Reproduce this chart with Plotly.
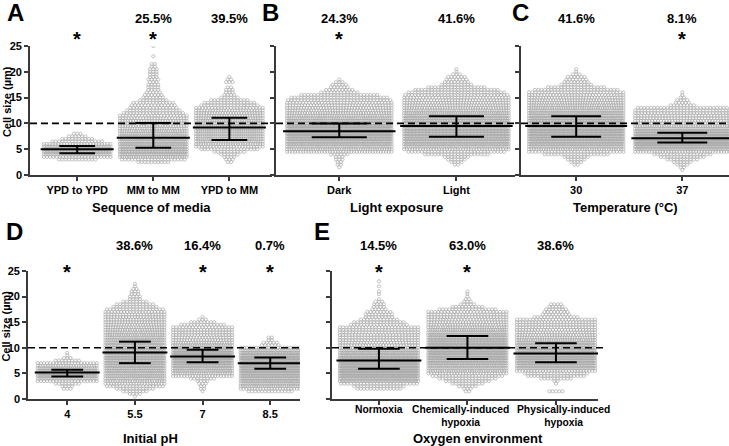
import numpy as np
import plotly.graph_objects as go

BIN = 0.5  # µm, height of one row of the dot plot

# ---------------- Panel A : sequence of media ----------------
a_categories = ["YPD to YPD", "MM to MM", "YPD to MM"]
a_percent = ["", "25.5%", "39.5%"]
a_star = [True, True, False]
a_median = [5.0, 7.2, 9.2]
a_q1 = [4.2, 5.3, 6.8]
a_q3 = [5.6, 10.1, 11.1]
ypd_ypd_start = 3.0
ypd_ypd_counts = [12, 22, 35, 45, 48, 42, 24, 16, 10, 6, 3]
mm_mm_start = 2.5
mm_mm_counts = [10, 20, 30, 40, 45, 45, 42, 40, 38, 36, 34, 32, 30, 28, 26,
                28, 26, 24, 22, 19, 17, 15, 14, 13, 9, 7, 6, 5, 4, 4, 4, 3, 4,
                3, 3, 3, 3, 2, 2, 0, 0, 1, 0, 0, 0, 1]
ypd_mm_start = 2.5
ypd_mm_counts = [2, 3, 4, 6, 10, 18, 24, 28, 30, 32, 32, 32, 32, 32, 32, 30,
                 30, 28, 27, 26, 25, 22, 18, 16, 12, 6, 4, 3, 3, 2, 0, 3, 2, 1]

# ---------------- Panel B : light exposure ----------------
b_categories = ["Dark", "Light"]
b_percent = ["24.3%", "41.6%"]
b_star = [True, False]
b_median = [8.5, 9.5]
b_q1 = [7.3, 7.4]
b_q3 = [10.0, 11.4]
dark_start = 1.5
dark_counts = [1, 2, 2, 3, 3, 6, 40, 45, 50, 60, 70, 80, 90, 95, 95, 90, 80,
               65, 55, 50, 45, 42, 40, 38, 36, 34, 32, 30, 24, 12, 9, 6, 5, 3, 1]
light_30_start = 2.0
light_30_counts = [2, 4, 6, 8, 20, 30, 40, 50, 60, 65, 70, 75, 75, 75, 75, 72,
                   70, 65, 60, 55, 50, 45, 42, 40, 38, 36, 34, 32, 30, 26, 18,
                   10, 8, 7, 6, 3, 1, 1]

# ---------------- Panel C : temperature ----------------
c_categories = ["30", "37"]
c_percent = ["41.6%", "8.1%"]
c_star = [False, True]
c_median = [9.5, 7.1]
c_q1 = [7.4, 6.3]
c_q3 = [11.4, 8.2]
t37_start = 1.0
t37_counts = [1, 2, 4, 6, 10, 14, 18, 35, 50, 70, 90, 100, 100, 90, 75, 60,
              48, 40, 36, 34, 32, 32, 30, 30, 28, 8, 5, 4, 2, 1, 1]

# ---------------- Panel D : initial pH ----------------
d_categories = ["4", "5.5", "7", "8.5"]
d_percent = ["", "38.6%", "16.4%", "0.7%"]
d_star = [True, False, True, True]
d_median = [5.2, 9.1, 8.3, 7.0]
d_q1 = [4.4, 7.0, 7.2, 5.9]
d_q3 = [5.7, 11.2, 9.6, 8.1]
ph4_start = 2.0
ph4_counts = [3, 4, 8, 20, 30, 40, 45, 40, 30, 24, 20, 8, 3, 1, 1]
ph55_start = 0.5
ph55_counts = [1, 4, 8, 12, 18, 22, 25, 28, 30, 32, 34, 36, 38, 40, 42, 42,
               42, 40, 38, 36, 34, 32, 30, 28, 27, 26, 25, 24, 23, 22, 22, 21,
               21, 20, 18, 14, 12, 8, 4, 4, 3, 3, 2, 1, 1]
ph7_start = 1.5
ph7_counts = [1, 2, 2, 3, 4, 8, 22, 26, 30, 34, 40, 48, 55, 60, 60, 55, 45,
              35, 28, 24, 22, 21, 20, 20, 20, 19, 14, 8, 3, 1]
ph85_start = 1.5
ph85_counts = [14, 22, 28, 32, 35, 38, 40, 45, 50, 55, 60, 62, 60, 55, 48, 40,
               30, 20, 6, 5, 2, 2]

# ---------------- Panel E : oxygen environment ----------------
e_categories = ["Normoxia", "Chemically-induced<br>hypoxia", "Physically-induced<br>hypoxia"]
e_percent = ["14.5%", "63.0%", "38.6%"]
e_star = [True, True, False]
e_median = [7.5, 10.0, 8.9]
e_q1 = [5.9, 7.8, 7.2]
e_q3 = [9.8, 12.3, 10.9]
normoxia_start = 2.0
normoxia_counts = [14, 16, 24, 40, 55, 65, 70, 75, 75, 72, 70, 65, 60, 52, 45,
                   40, 32, 28, 27, 26, 26, 26, 25, 25, 25, 18, 16, 12, 9, 9, 8,
                   5, 4, 4, 3, 1, 0, 1, 1, 0, 1, 0, 1]
chem_start = 1.5
chem_counts = [2, 3, 6, 10, 14, 18, 22, 28, 35, 40, 45, 50, 55, 60, 62, 64, 65,
               65, 62, 58, 55, 50, 45, 40, 36, 33, 30, 28, 27, 26, 26, 25, 18,
               10, 5, 3, 2, 1, 1, 1]
phys_start = 1.5
phys_counts = [5, 0, 0, 1, 2, 10, 18, 20, 28, 40, 50, 55, 60, 65, 65, 62, 58,
               52, 45, 40, 35, 32, 30, 28, 27, 26, 26, 26, 25, 14, 9, 8, 7, 5, 4]

# ---------------- layout geometry (pixels) ----------------
W_PX, H_PX = 729, 446
panels = [
    dict(cats=a_categories, pct=a_percent, star=a_star, med=a_median, q1=a_q1, q3=a_q3,
         groups=[(ypd_ypd_start, ypd_ypd_counts), (mm_mm_start, mm_mm_counts), (ypd_mm_start, ypd_mm_counts)],
         px=(30, 272), py=(46, 175), rng=(-0.62, 2.56), letter="A", letter_xy=(16, 13),
         title="Sequence of media", title_x=151, title_y=207, ylabels=True, dash_end=272),
    dict(cats=b_categories, pct=b_percent, star=b_star, med=b_median, q1=b_q1, q3=b_q3,
         groups=[(dark_start, dark_counts), (light_30_start, light_30_counts)],
         px=(276, 515), py=(46, 175), rng=(-0.54, 1.50), letter="B", letter_xy=(270, 13),
         title="Light exposure", title_x=396, title_y=207, ylabels=False, dash_end=515),
    dict(cats=c_categories, pct=c_percent, star=c_star, med=c_median, q1=c_q1, q3=c_q3,
         groups=[(light_30_start, light_30_counts), (t37_start, t37_counts)],
         px=(521, 729), py=(46, 175), rng=(-0.52, 1.44), letter="C", letter_xy=(520, 13),
         title="Temperature (°C)", title_x=625, title_y=207, ylabels=False, dash_end=729),
    dict(cats=d_categories, pct=d_percent, star=d_star, med=d_median, q1=d_q1, q3=d_q3,
         groups=[(ph4_start, ph4_counts), (ph55_start, ph55_counts), (ph7_start, ph7_counts), (ph85_start, ph85_counts)],
         px=(28, 300), py=(271, 399), rng=(-0.58, 3.44), letter="D", letter_xy=(14, 232),
         title="Initial pH", title_x=150, title_y=438, ylabels=True, dash_end=300),
    dict(cats=e_categories, pct=e_percent, star=e_star, med=e_median, q1=e_q1, q3=e_q3,
         groups=[(normoxia_start, normoxia_counts), (chem_start, chem_counts), (phys_start, phys_counts)],
         px=(332, 598), py=(271, 399), rng=(-0.53, 2.475), letter="E", letter_xy=(322, 232),
         title="Oxygen environment", title_x=478, title_y=438.5, ylabels=False, dash_end=606,
         label_px=[379, 460, 563]),
]

FONT = "Liberation Sans, Arial, sans-serif"
DOT_COLOR = "#ababab"
AXIS_COLOR = "#3a3a3a"
Y_MAX = 25


def px2x(p):
    return p / W_PX


def py2y(p):
    return 1 - p / H_PX


def swarm(start, counts, spacing_px, width=0.92, dot_px=3.3):
    dx = dot_px / spacing_px
    xs, ys = [], []
    for i, n in enumerate(counts):
        if n <= 0:
            continue
        yv = start + i * BIN
        if n * dx <= width:
            off = (np.arange(n) - (n - 1) / 2) * dx
        else:
            off = np.linspace(-(width - dx) / 2, (width - dx) / 2, n)
        xs.extend(off.tolist())
        ys.extend([yv] * n)
    return np.array(xs), np.array(ys)


fig = go.Figure()
annotations = []
shapes = []

for k, p in enumerate(panels):
    idx = "" if k == 0 else str(k + 1)
    xa, ya = "x" + idx, "y" + idx
    spacing = (p["px"][1] - p["px"][0]) / (p["rng"][1] - p["rng"][0])
    # dots
    for j, (start, counts) in enumerate(p["groups"]):
        xs, ys = swarm(start, counts, spacing)
        fig.add_trace(go.Scatter(
            x=xs + j, y=ys, mode="markers", xaxis=xa, yaxis=ya, showlegend=False,
            hoverinfo="skip",
            marker=dict(symbol="circle-open", size=3.2, color=DOT_COLOR,
                        line=dict(width=0.7, color=DOT_COLOR))))
    # median + interquartile range
    lx, ly = [], []
    for j in range(len(p["cats"])):
        m, lo, hi = p["med"][j], p["q1"][j], p["q3"][j]
        lx += [j - 0.48, j + 0.48, None, j - 0.235, j + 0.235, None,
               j - 0.235, j + 0.235, None, j, j, None]
        ly += [m, m, None, lo, lo, None, hi, hi, None, lo, hi, None]
    fig.add_trace(go.Scatter(x=lx, y=ly, mode="lines", xaxis=xa, yaxis=ya,
                             showlegend=False, hoverinfo="skip",
                             line=dict(color="black", width=2)))
    dom_y = [py2y(p["py"][1]), py2y(p["py"][0])]
    own_labels = "label_px" in p
    fig.update_layout(**{
        ("xaxis" + idx): dict(
            domain=[px2x(p["px"][0]), px2x(p["px"][1])], range=list(p["rng"]),
            anchor=ya, tickvals=list(range(len(p["cats"]))), ticktext=p["cats"],
            showticklabels=not own_labels, tickangle=0, automargin=False,
            showline=True, linecolor=AXIS_COLOR, linewidth=1.6, ticks="outside",
            ticklen=4, tickwidth=1.6, tickcolor=AXIS_COLOR, showgrid=False,
            zeroline=False, fixedrange=True,
            tickfont=dict(family=FONT, size=11, color="black", weight="bold")),
        ("yaxis" + idx): dict(
            domain=dom_y, range=[0, Y_MAX], anchor=xa, tickvals=[0, 5, 10, 15, 20, 25],
            showticklabels=p["ylabels"], automargin=False, showline=True,
            linecolor=AXIS_COLOR, linewidth=1.6, ticks="outside", ticklen=4,
            tickwidth=1.6, tickcolor=AXIS_COLOR, showgrid=False, zeroline=False,
            fixedrange=True,
            tickfont=dict(family=FONT, size=11, color="black", weight="bold")),
    })
    # dashed threshold at 10 µm
    y10 = dom_y[0] + (10 / Y_MAX) * (dom_y[1] - dom_y[0])
    shapes.append(dict(type="line", xref="paper", yref="paper",
                       x0=px2x(p["px"][0]), x1=px2x(p["dash_end"]), y0=y10, y1=y10,
                       line=dict(color="black", width=1.6, dash="7px,4px")))
    # panel letter
    annotations.append(dict(text=p["letter"], xref="paper", yref="paper",
                            x=px2x(p["letter_xy"][0]), y=py2y(p["letter_xy"][1]),
                            showarrow=False, xanchor="center", yanchor="middle",
                            font=dict(family=FONT, size=24, color="black", weight="bold")))
    # axis title
    annotations.append(dict(text=p["title"], xref="paper", yref="paper",
                            x=px2x(p["title_x"]), y=py2y(p["title_y"]),
                            showarrow=False, xanchor="center", yanchor="middle",
                            font=dict(family=FONT, size=13, color="black", weight="bold")))
    pct_y = 18 if p["py"][0] < 100 else 245
    star_y = 39 if p["py"][0] < 100 else 272
    for j in range(len(p["cats"])):
        if p["pct"][j]:
            annotations.append(dict(text=p["pct"][j], xref=xa, yref="paper", x=j,
                                    y=py2y(pct_y), showarrow=False, xanchor="center",
                                    yanchor="middle",
                                    font=dict(family=FONT, size=13, color="black", weight="bold")))
        if p["star"][j]:
            annotations.append(dict(text="*", xref=xa, yref="paper", x=j,
                                    y=py2y(star_y), showarrow=False, xanchor="center",
                                    yanchor="middle",
                                    font=dict(family=FONT, size=20, color="black", weight="bold")))
        if own_labels:
            txt = p["cats"][j]
            annotations.append(dict(text=txt, xref="paper", yref="paper",
                                    x=px2x(p["label_px"][j]), y=py2y(403),
                                    showarrow=False, xanchor="center", yanchor="top",
                                    borderpad=0,
                                    font=dict(family=FONT, size=10.3, color="black",
                                              weight="bold")))
    if p["ylabels"]:
        annotations.append(dict(text="Cell size (µm)", xref="paper", yref="paper",
                                x=px2x(6.5), y=(dom_y[0] + dom_y[1]) / 2 + 0.02, textangle=-90,
                                showarrow=False, xanchor="center", yanchor="middle",
                                font=dict(family=FONT, size=11, color="black", weight="bold")))

fig.update_layout(template="none", width=W_PX, height=H_PX,
                  margin=dict(l=0, r=0, t=0, b=0, autoexpand=False),
                  paper_bgcolor="white", plot_bgcolor="white",
                  annotations=annotations, shapes=shapes)
fig.write_html("out.html", config={"displayModeBar": False},
               post_script="document.body.style.margin='0';document.body.style.overflow='hidden';")
